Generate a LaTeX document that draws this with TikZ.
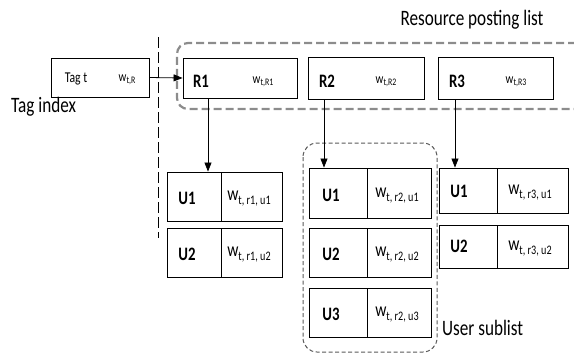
\documentclass[tikz,border=0pt]{standalone}
\usepackage{fontspec}
\setmainfont{Carlito}[FakeStretch=0.78]
\usetikzlibrary{arrows.meta}
\newcommand{\wsub}[1]{{\fontsize{20}{20}\selectfont w}\raisebox{-4pt}{\fontsize{13}{13}\selectfont #1}}
\newcommand{\wsm}[1]{{\fontsize{14}{14}\selectfont w}\raisebox{-2.5pt}{\fontsize{10}{10}\selectfont #1}}
\begin{document}
\begin{tikzpicture}[x=1pt,y=-1pt,
  box/.style={draw=black,line width=0.9pt,inner sep=0pt},
  lbl/.style={font=\fontsize{22}{22}\selectfont,inner sep=0pt},
  bl/.style={font=\fontsize{19}{19}\selectfont\bfseries,inner sep=0pt},
  txt/.style={inner sep=0pt},
  arr/.style={-{Triangle[length=9pt,width=7pt]},line width=0.8pt},
  grpA/.style={draw=black!45,line width=2.2pt,dash pattern=on 8pt off 4pt,rounded corners=11pt},
  grpB/.style={draw=black!65,line width=1pt,dash pattern=on 4pt off 2.5pt,rounded corners=14pt}]
\useasboundingbox (0,0) rectangle (574,354);
% groups
\coordinate (ga) at (600,43);
\coordinate (gb) at (177,43);
\coordinate (gc) at (177,109);
\coordinate (gd) at (600,109);
\draw[grpA] (ga) -- (gb) -- (gc) -- (gd);
\coordinate (ua) at (303,143);
\coordinate (ub) at (437,352);
\draw[grpB] (ua) rectangle (ub);
% vertical dashed line
\coordinate (vt) at (158,37);
\coordinate (vb) at (158,238);
\draw[line width=0.8pt,dash pattern=on 11pt off 4pt] (vt) -- (vb);
% tag
\node[box,minimum width=98pt,minimum height=39pt] (tag) at (100,77.5) {};
\node[txt,font=\fontsize{15}{15}\selectfont] (tagt) at (76,79) {Tag t};
\node[txt] (tagw) at (127,80) {\wsm{t,R}};
% R boxes
\node[box,minimum width=114pt,minimum height=40pt] (r1) at (240,78) {};
\node[bl] (r1l) at (201,81) {R1};
\node[txt] (r1w) at (263,82) {\wsm{t,R1}};
\node[box,minimum width=116pt,minimum height=42pt] (r2) at (366,78) {};
\node[bl] (r2l) at (327,81) {R2};
\node[txt] (r2w) at (386,82) {\wsm{t,R2}};
\node[box,minimum width=115pt,minimum height=42pt] (r3) at (495.5,78) {};
\node[bl] (r3l) at (457,81) {R3};
\node[txt] (r3w) at (516,82) {\wsm{t,R3}};
\draw[arr] (tag.east) -- (r1.west);
% column 1
\node[box,minimum width=54pt,minimum height=49pt] (a1) at (194,196.5) {};
\node[box,minimum width=61pt,minimum height=49pt] (a1w) at (251.5,196.5) {};
\node[bl] at (187,198) {U1};
\node[txt] at (249,199) {\wsub{t, r1, u1}};
\node[box,minimum width=54pt,minimum height=49pt] (a2) at (194,252.5) {};
\node[box,minimum width=61pt,minimum height=49pt] (a2w) at (251.5,252.5) {};
\node[bl] at (187,254) {U2};
\node[txt] at (249,255) {\wsub{t, r1, u2}};
% column 2
\node[box,minimum width=58pt,minimum height=50pt] (b1) at (338,193) {};
\node[box,minimum width=64pt,minimum height=50pt] (b1w) at (399,193) {};
\node[bl] at (331,195) {U1};
\node[txt] at (397,196) {\wsub{t, r2, u1}};
\node[box,minimum width=58pt,minimum height=49pt] (b2) at (338,252.5) {};
\node[box,minimum width=64pt,minimum height=49pt] (b2w) at (399,252.5) {};
\node[bl] at (331,254) {U2};
\node[txt] at (397,255) {\wsub{t, r2, u2}};
\node[box,minimum width=58pt,minimum height=49pt] (b3) at (338,312.5) {};
\node[box,minimum width=64pt,minimum height=49pt] (b3w) at (399,312.5) {};
\node[bl] at (331,314) {U3};
\node[txt] at (397,315) {\wsub{t, r2, u3}};
% column 3
\node[box,minimum width=58pt,minimum height=45pt] (c1) at (468,190.5) {};
\node[box,minimum width=71pt,minimum height=45pt] (c1w) at (532.5,190.5) {};
\node[bl] at (459,191) {U1};
\node[txt] at (530,193) {\wsub{t, r3, u1}};
\node[box,minimum width=58pt,minimum height=43pt] (c2) at (468,246.5) {};
\node[box,minimum width=71pt,minimum height=43pt] (c2w) at (532.5,246.5) {};
\node[bl] at (459,246) {U2};
\node[txt] at (530,249) {\wsub{t, r3, u2}};
% arrows down
\draw[arr] (r1.south -| 208,0) -- (a1.north -| 208,0);
\draw[arr] (r2.south -| 324,0) -- (b1.north -| 324,0);
\draw[arr] (r3.south -| 455,0) -- (c1.north -| 455,0);
% labels
\node[lbl] (rpl) at (472,20) {Resource posting list};
\node[lbl,anchor=west] (ti) at (11,107) {Tag index};
\node[lbl,anchor=west] (us) at (442,328) {User sublist};
\end{tikzpicture}
\end{document}
